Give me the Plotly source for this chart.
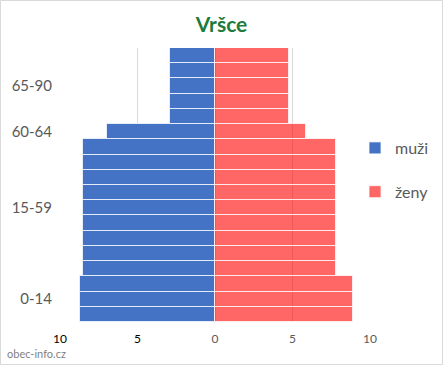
import plotly.graph_objects as go

# Data (per row, bottom to top)
row_groups = ["0-14"] * 3 + ["15-59"] * 9 + ["60-64"] * 1 + ["65-90"] * 5
muzi = [8.7, 8.7, 8.7,
        8.5, 8.5, 8.5, 8.5, 8.5, 8.5, 8.5, 8.5, 8.5,
        7.0,
        2.9, 2.9, 2.9, 2.9, 2.9]
zeny = [8.9, 8.9, 8.9,
        7.8, 7.8, 7.8, 7.8, 7.8, 7.8, 7.8, 7.8, 7.8,
        5.9,
        4.8, 4.8, 4.8, 4.8, 4.8]
group_labels = ["0-14", "15-59", "60-64", "65-90"]
x_tick_vals = [-10, -5, 0, 5, 10]
x_tick_labels = ["10", "5", "0", "5", "10"]

rows = list(range(len(row_groups)))
group_centers = []
for g in group_labels:
    idx = [i for i, r in enumerate(row_groups) if r == g]
    group_centers.append(sum(idx) / len(idx))

FONT = "Lato, 'Open Sans', sans-serif"
W, H = 443, 365
ML, MR, MT, MB = 60, 73, 48, 43

fig = go.Figure()
fig.add_trace(go.Bar(
    y=rows, x=[-v for v in muzi], orientation="h", name="muži",
    marker=dict(color="#4472C4", line=dict(color="rgba(255,255,255,0.75)", width=1)),
    legendgroup="m",
))
fig.add_trace(go.Bar(
    y=rows, x=zeny, orientation="h", name="ženy",
    marker=dict(color="rgba(255,0,0,0.6)", line=dict(color="rgba(255,255,255,0.75)", width=1)),
    legendgroup="z",
))

tick_text = []
for v, t in zip(x_tick_vals, x_tick_labels):
    if v < 0:
        tick_text.append(f"<span style='color:#000000'>{t}</span>")
    else:
        tick_text.append(f"<span style='color:#595959'>{t}</span>")

pw = W - ML - MR
ph = H - MT - MB
fig.update_layout(
    width=W, height=H, autosize=False,
    margin=dict(l=ML, r=MR, t=MT, b=MB, autoexpand=False),
    paper_bgcolor="white", plot_bgcolor="white",
    barmode="overlay", bargap=0,
    font=dict(family=FONT, color="#595959", size=15),
    title=dict(text="<b>Vršce</b>", x=0.5, xanchor="center", y=1 - 25 / H, yanchor="middle",
               font=dict(family=FONT, size=21, color="#1E7B3A")),
    xaxis=dict(range=[-10, 10], tickvals=x_tick_vals, ticktext=tick_text,
               showgrid=True, gridcolor="#D9D9D9", gridwidth=1, zeroline=False,
               showline=False, ticks="", tickfont=dict(size=12), fixedrange=True,
               automargin=False, ticklabelstandoff=8),
    yaxis=dict(range=[-0.5, len(rows) - 0.5], tickvals=group_centers, ticktext=group_labels,
               showgrid=False, zeroline=False, ticks="", ticklen=0, automargin=False,
               ticklabelstandoff=7, fixedrange=True,
               tickfont=dict(size=15, color="#595959")),
    legend=dict(x=(355 - ML) / pw, y=(H - MB - 131) / ph, xanchor="left", yanchor="top",
                font=dict(size=16, color="#595959"), tracegroupgap=20, itemwidth=30,
                bgcolor="rgba(0,0,0,0)"),
    showlegend=True,
    shapes=[dict(type="rect", xref="paper", yref="paper",
                 x0=-ML / pw + 0.5 / pw, x1=1 + MR / pw - 0.5 / pw,
                 y0=-MB / ph + 0.5 / ph, y1=1 + MT / ph - 0.5 / ph,
                 line=dict(color="#D9D9D9", width=1))],
    annotations=[dict(text="obec-info.cz", xref="paper", yref="paper",
                      x=-ML / pw + 5 / pw, y=-MB / ph + 12 / ph, xanchor="left", yanchor="middle",
                      showarrow=False, font=dict(family=FONT, size=11, color="#7F7F7F"))],
)
fig.write_html("out.html", config={"displayModeBar": False},
               post_script="document.body.style.margin='0';")
